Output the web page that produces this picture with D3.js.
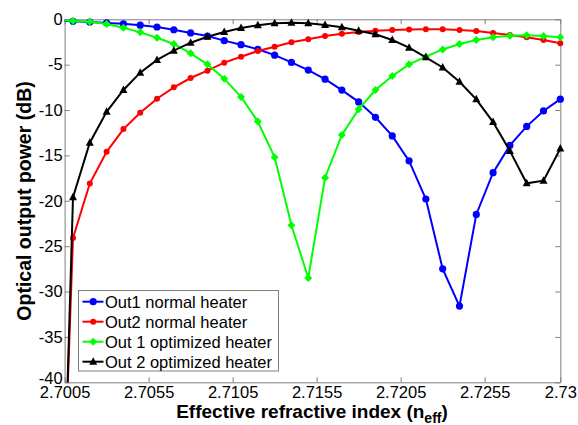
<!DOCTYPE html>
<html><head><meta charset="utf-8">
<script src="https://cdn.jsdelivr.net/npm/d3@7"></script>
<style>
body{margin:0;background:#fff;}
svg{display:block;font-family:"Liberation Sans",Arial,sans-serif;}
</style></head>
<body><svg id="chart" width="578" height="425"></svg>
<script>
const nEff = [2.700,2.701,2.702,2.703,2.704,2.705,2.706,2.707,2.708,2.709,2.710,
  2.711,2.712,2.713,2.714,2.715,2.716,2.717,2.718,2.719,2.720,
  2.721,2.722,2.723,2.724,2.725,2.726,2.727,2.728,2.729,2.730];
const out1Normal = [-0.1,-0.22,-0.3,-0.4,-0.5,-0.65,-0.85,-1.15,-1.5,-1.85,-2.35,
  -2.8,-3.3,-3.95,-4.75,-5.6,-6.6,-7.8,-9.1,-10.8,-12.85,
  -15.6,-19.8,-27.5,-31.6,-21.5,-16.9,-13.9,-11.8,-10.1,-8.8];
const out2Normal = [-76,-24.1,-18.1,-14.6,-12.1,-10.3,-8.75,-7.5,-6.47,-5.66,-4.78,
  -4.12,-3.49,-3.02,-2.53,-2.2,-1.85,-1.6,-1.4,-1.25,-1.17,
  -1.12,-1.1,-1.1,-1.18,-1.3,-1.5,-1.73,-1.98,-2.28,-2.65];
const out1Optimized = [-0.05,-0.19,-0.26,-0.52,-0.92,-1.44,-2.03,-2.72,-3.75,-4.96,-6.54,
  -8.55,-11.26,-15.2,-22.7,-28.5,-17.45,-12.75,-9.9,-7.79,-6.25,
  -4.96,-4.12,-3.32,-2.72,-2.28,-1.98,-1.82,-1.76,-1.84,-1.98];
const out2Optimized = [-83,-19.6,-13.6,-10.2,-7.79,-5.88,-4.48,-3.46,-2.58,-1.92,-1.4,
  -0.95,-0.65,-0.44,-0.37,-0.44,-0.63,-0.88,-1.26,-1.65,-2.28,
  -3.13,-4.19,-5.31,-6.88,-8.82,-11.33,-14.5,-18.07,-17.78,-14.25];
const seriesNames = ["Out1 normal heater","Out2 normal heater","Out 1 optimized heater","Out 2 optimized heater"];
const seriesColors = ["#0000ff","#ff0000","#00ff00","#000000"];
const seriesMarkers = ["circle","smallcircle","diamond","triangle"];
const xTicks = [2.7005,2.7055,2.7105,2.7155,2.7205,2.7255,2.73];
const xTickLabels = ["2.7005","2.7055","2.7105","2.7155","2.7205","2.7255","2.73"];
const yTicks = [0,-5,-10,-15,-20,-25,-30,-35,-40];
const yTickLabels = ["0","-5","-10","-15","-20","-25","-30","-35","-40"];
const xTitle = "Effective refractive index (n";
const xTitleSub = "eff";
const yTitle = "Optical output power (dB)";

const allSeries = [out1Normal,out2Normal,out1Optimized,out2Optimized];
const L = 64.6, R = 560.3, T = 19.3, B = 382.3;
const svg = d3.select("#chart");
const x = d3.scaleLinear().domain([2.7005,2.73]).range([L,R]);
const y = d3.scaleLinear().domain([-40,0]).range([B,T]);
const axisColor = "#808080";
const fs = "16.5px";

svg.append("defs").append("clipPath").attr("id","clip")
  .append("rect").attr("x",L).attr("y",T).attr("width",R-L).attr("height",B-T);

function styleAxis(g, labels){
  g.select(".domain").attr("stroke",axisColor).attr("stroke-width",1);
  g.selectAll(".tick line").attr("stroke",axisColor).attr("stroke-width",1);
  g.selectAll(".tick text").attr("fill","#000").style("font-size",fs);
  if(!labels) g.selectAll(".tick text").remove();
}
const fmtX = d => xTickLabels[xTicks.indexOf(d)];
const fmtY = d => yTickLabels[yTicks.indexOf(d)];
svg.append("g").attr("transform",`translate(0,${B})`)
  .call(d3.axisBottom(x).tickValues(xTicks).tickFormat(fmtX).tickSizeInner(-5).tickSizeOuter(0).tickPadding(4))
  .call(g=>styleAxis(g,true));
svg.append("g").attr("transform",`translate(0,${T})`)
  .call(d3.axisTop(x).tickValues(xTicks).tickSizeInner(-5).tickSizeOuter(0))
  .call(g=>styleAxis(g,false));
const yAx = svg.append("g").attr("transform",`translate(${L},0)`)
  .call(d3.axisLeft(y).tickValues(yTicks).tickFormat(fmtY).tickSizeInner(-5).tickSizeOuter(0).tickPadding(2))
  .call(g=>styleAxis(g,true));
// MATLAB-like: lowest y label sits slightly above the x labels
yAx.selectAll(".tick").filter(d=>d===-40).select("text").attr("dy","0.1em");
svg.append("g").attr("transform",`translate(${R},0)`)
  .call(d3.axisRight(y).tickValues(yTicks).tickSizeInner(-5).tickSizeOuter(0))
  .call(g=>styleAxis(g,false));
svg.selectAll("g").attr("font-family",null).attr("font-size",null);

function drawMarker(g, type, cx, cy, color){
  if(type==="circle"){
    g.append("circle").attr("cx",cx).attr("cy",cy).attr("r",3.6).attr("fill",color);
  } else if(type==="smallcircle"){
    g.append("circle").attr("cx",cx).attr("cy",cy).attr("r",3).attr("fill",color);
  } else if(type==="diamond"){
    const s=4;
    g.append("path").attr("d",`M${cx},${cy-s}L${cx+s},${cy}L${cx},${cy+s}L${cx-s},${cy}Z`).attr("fill",color);
  } else if(type==="triangle"){
    const s=4;
    g.append("path").attr("d",`M${cx},${cy-s-0.5}L${cx+s},${cy+s-1}L${cx-s},${cy+s-1}Z`).attr("fill",color);
  }
}

const line = d3.line().x(d=>x(d[0])).y(d=>y(d[1]));
allSeries.forEach((vals,i)=>{
  const pts = nEff.map((n,j)=>[n,vals[j]]);
  svg.append("path").datum(pts).attr("d",line).attr("fill","none")
    .attr("stroke",seriesColors[i]).attr("stroke-width",2).attr("clip-path","url(#clip)");
  const mg = svg.append("g");
  pts.filter(p=>p[0]>=2.7005 && p[1]>=-40).forEach(p=>drawMarker(mg,seriesMarkers[i],x(p[0]),y(p[1]),seriesColors[i]));
});

const lg = svg.append("g");
lg.append("rect").attr("x",78.5).attr("y",290.5).attr("width",200).attr("height",80.5)
  .attr("fill","#fff").attr("stroke",axisColor).attr("stroke-width",1);
seriesNames.forEach((nm,i)=>{
  const cy = 301.7 + i*20;
  lg.append("line").attr("x1",82.5).attr("x2",103.5).attr("y1",cy).attr("y2",cy)
    .attr("stroke",seriesColors[i]).attr("stroke-width",2);
  drawMarker(lg,seriesMarkers[i],93.2,cy,seriesColors[i]);
  lg.append("text").attr("x",105).attr("y",cy+6).style("font-size",fs).attr("fill","#000").text(nm);
});

const xt = svg.append("text").attr("x",312).attr("y",418).attr("text-anchor","middle")
  .style("font-size","19px").style("font-weight","bold").attr("fill","#000");
xt.append("tspan").text(xTitle);
xt.append("tspan").attr("dy",5).style("font-size","14px").text(xTitleSub);
xt.append("tspan").attr("dy",-5).text(")");
svg.append("text").attr("transform","translate(31,201) rotate(-90)").attr("text-anchor","middle")
  .style("font-size","19.5px").style("font-weight","bold").attr("fill","#000").text(yTitle);
</script>
</body></html>
